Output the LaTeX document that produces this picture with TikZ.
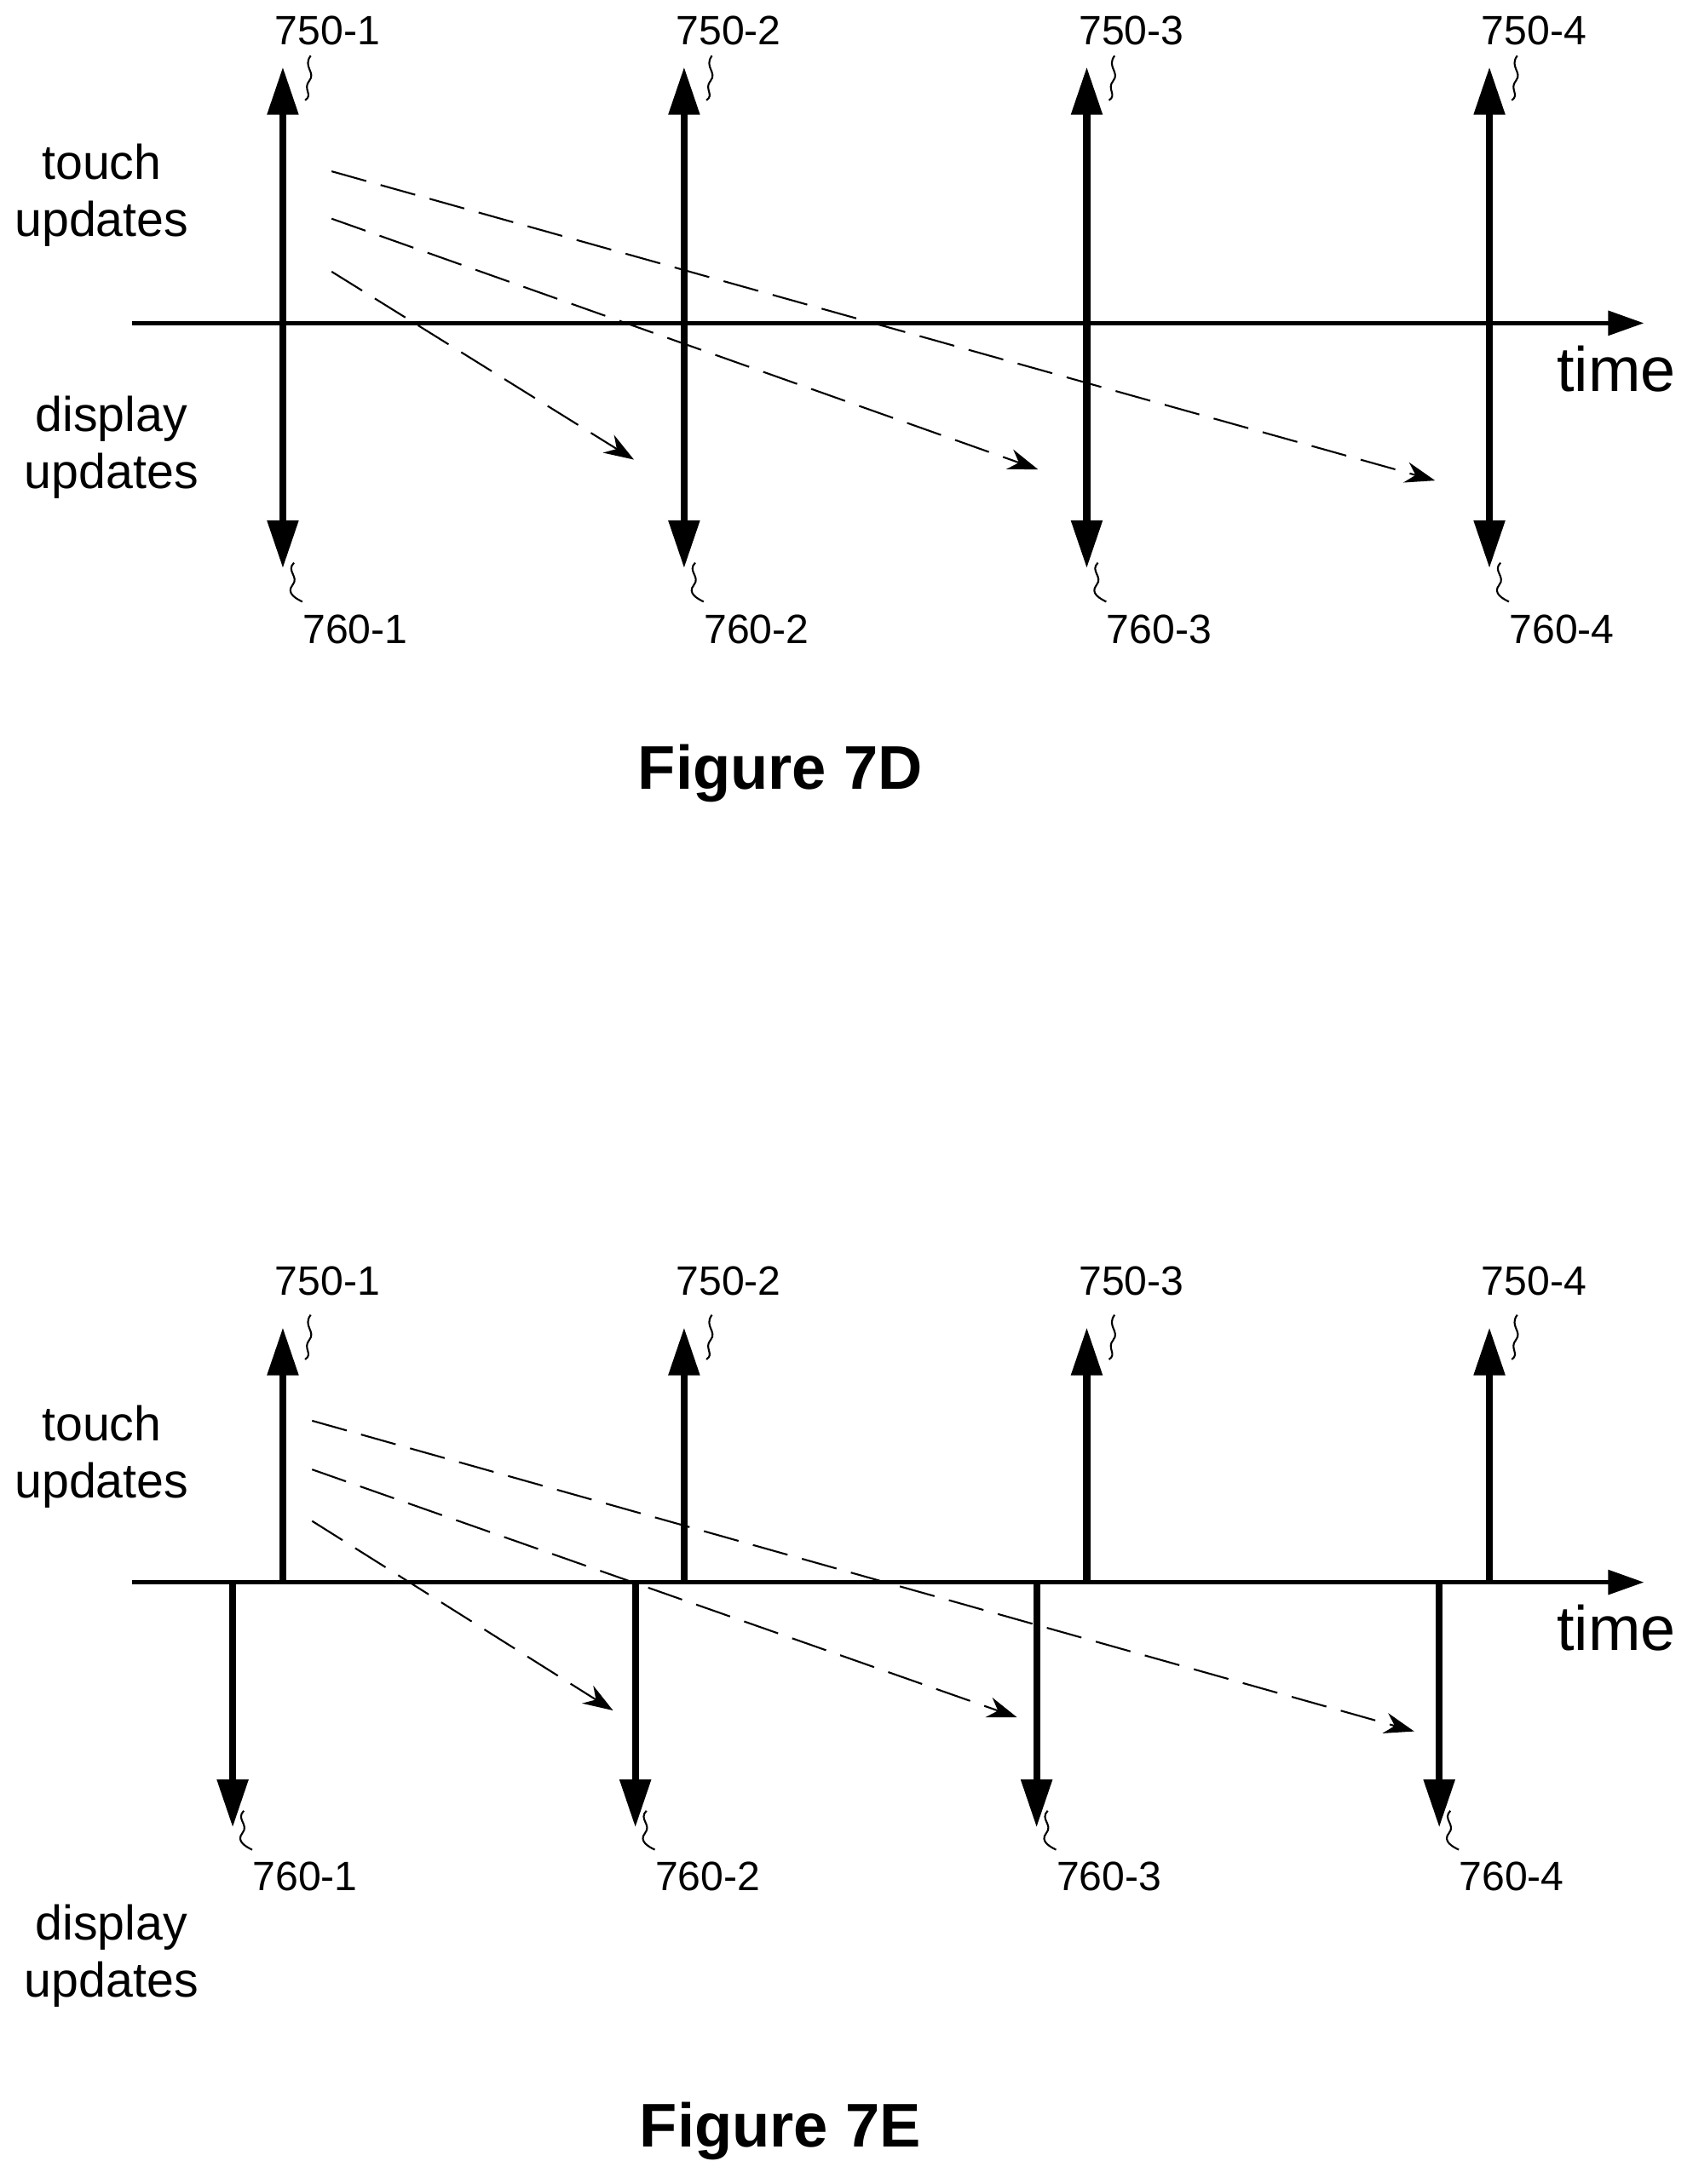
\documentclass[tikz,border=0pt]{standalone}
\usepackage{fontspec}
\setmainfont{Liberation Sans}
\usetikzlibrary{arrows.meta,positioning}

\tikzset{
    upd/.style={line width=2.3pt, -{Triangle[width=10pt,length=16pt]}},
    lag/.style={line width=0.6pt, dash pattern=on 12pt off 5pt, -{Stealth[width=7pt,length=10pt]}},
    refnum/.style={font=\fontsize{13.7}{15}\selectfont, inner sep=1pt},
    side/.style={font=\fontsize{16.3}{19}\selectfont, align=center},
    squig/.style={line width=0.6pt}
}

\begin{document}
\begin{tikzpicture}[x=0.01635cm, y=-0.01635cm]
    \useasboundingbox (0,0) rectangle (1215,1568);

    % ---------- Figure 7D ----------
    \coordinate (axD0) at (95,232);
    \coordinate (axD1) at (1180,232);
    \draw[line width=1.6pt, -{Triangle[width=8pt,length=12pt]}] (axD0) -- (axD1);
    \node[font=\fontsize{21}{24}\selectfont] (timeD) at (1160,265) {time};
    \node[side] (touchD) at (73,140) {touch\\updates};
    \node[side] (dispD) at (80,321) {display\\updates};

    \foreach \k/\x in {1/203,2/491,3/780,4/1069} {
        \coordinate (uD\k) at (\x,48);
        \coordinate (dD\k) at (\x,408);
        \draw[upd] (\x,232) -- (uD\k);
        \draw[upd] (\x,232) -- (dD\k);
        \node[refnum] (tD\k) at (\x+32,22) {750-\k};
        \node[refnum] (rD\k) at (\x+52,452) {760-\k};
        \draw[squig] (\x+20,40) .. controls (\x+14,48) and (\x+24,52) .. (\x+19,58) .. controls (\x+14,64) and (\x+22,68) .. (\x+16,72);
        \draw[squig] (\x+8,404) .. controls (\x+2,410) and (\x+12,414) .. (\x+7,420) .. controls (\x+2,426) and (\x+10,430) .. (\x+14,432);
    }

    \coordinate (sD1) at (238,123); \coordinate (eD1) at (1030,345);
    \coordinate (sD2) at (238,157); \coordinate (eD2) at (745,337);
    \coordinate (sD3) at (238,195); \coordinate (eD3) at (455,330);
    \foreach \k in {1,2,3} \draw[lag] (sD\k) -- (eD\k);

    \node[font=\bfseries\fontsize{20.6}{24}\selectfont] (capD) at (560,555) {Figure 7D};

    % ---------- Figure 7E ----------
    \coordinate (axE0) at (95,1136);
    \coordinate (axE1) at (1180,1136);
    \draw[line width=1.6pt, -{Triangle[width=8pt,length=12pt]}] (axE0) -- (axE1);
    \node[font=\fontsize{21}{24}\selectfont] (timeE) at (1160,1169) {time};
    \node[side] (touchE) at (73,1046) {touch\\updates};
    \node[side] (dispE) at (80,1404) {display\\updates};

    \foreach \k/\x/\xd in {1/203/167,2/491/456,3/780/744,4/1069/1033} {
        \coordinate (uE\k) at (\x,953);
        \coordinate (dE\k) at (\xd,1312);
        \draw[upd] (\x,1136) -- (uE\k);
        \draw[upd] (\xd,1136) -- (dE\k);
        \node[refnum] (tE\k) at (\x+32,920) {750-\k};
        \node[refnum] (rE\k) at (\xd+52,1347) {760-\k};
        \draw[squig] (\x+20,944) .. controls (\x+14,952) and (\x+24,956) .. (\x+19,962) .. controls (\x+14,968) and (\x+22,972) .. (\x+16,976);
        \draw[squig] (\xd+8,1300) .. controls (\xd+2,1306) and (\xd+12,1310) .. (\xd+7,1316) .. controls (\xd+2,1322) and (\xd+10,1326) .. (\xd+14,1328);
    }

    \coordinate (sE1) at (224,1020); \coordinate (eE1) at (1015,1243);
    \coordinate (sE2) at (224,1055); \coordinate (eE2) at (730,1233);
    \coordinate (sE3) at (224,1092); \coordinate (eE3) at (440,1228);
    \foreach \k in {1,2,3} \draw[lag] (sE\k) -- (eE\k);

    \node[font=\bfseries\fontsize{20.6}{24}\selectfont] (capE) at (560,1530) {Figure 7E};
\end{tikzpicture}
\end{document}
